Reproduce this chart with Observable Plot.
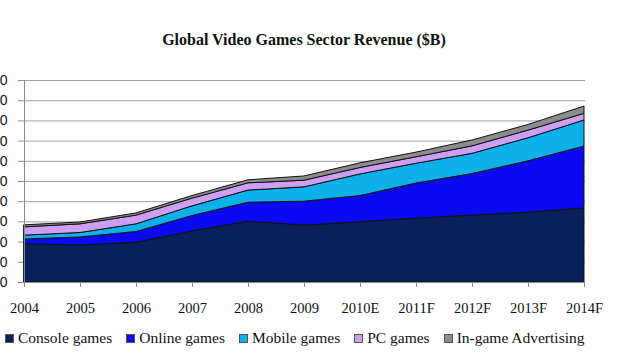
<!DOCTYPE html>
<html>
<head>
<meta charset="utf-8">
<script src="https://cdn.jsdelivr.net/npm/d3@7"></script>
<script src="https://cdn.jsdelivr.net/npm/@observablehq/plot@0.6"></script>
<style>
  html, body { margin: 0; padding: 0; background: #fff; width: 640px; height: 360px; overflow: hidden; }
  #title { height: 60px; box-sizing: border-box; padding-top: 31px; line-height: 18px; text-align: center; font-family: "Liberation Serif", serif; font-weight: bold; font-size: 16px; color: #111; padding-right: 32px; }
  #legend { display: flex; gap: 0; padding-left: 5px; padding-top: 7px; font-family: "Liberation Serif", serif; font-size: 15.5px; color: #111; line-height: 18px; }
  .item { display: flex; align-items: center; margin-right: 14px; }
  .sw { width: 9px; height: 9px; margin-right: 4px; border: 1px solid #555; box-sizing: border-box; }
</style>
</head>
<body>
<div id="title">Global Video Games Sector Revenue ($B)</div>
<div id="chart"></div>
<div id="legend"></div>
<script>
const years = ["2004","2005","2006","2007","2008","2009","2010E","2011F","2012F","2013F","2014F"];
const series = ["Console games","Online games","Mobile games","PC games","In-game Advertising"];
const colors = ["#0a205c","#0a0af2","#0cb0ea","#cc9ff2","#8c8c8c"];
const yTicks = [0,10,20,30,40,50,60,70,80,90,100];

const consoleGames = [19.0, 18.3, 19.7, 25.3, 30.1, 28.2, 29.8, 31.6, 33.1, 34.6, 36.7];
const onlineGames  = [2.3, 4.0, 5.3, 7.6, 9.4, 11.8, 13.0, 17.4, 20.6, 25.4, 30.6];
const mobileGames  = [1.9, 2.2, 3.8, 4.8, 6.0, 7.1, 10.7, 9.8, 10.0, 11.4, 12.9];
const pcGames      = [4.1, 4.3, 4.3, 3.8, 3.6, 3.3, 3.2, 3.2, 3.7, 3.8, 3.3];
const inGameAds    = [1.0, 0.9, 1.1, 1.3, 1.5, 2.1, 2.3, 2.3, 2.9, 2.8, 3.6];

const values = [consoleGames, onlineGames, mobileGames, pcGames, inGameAds];
const data = [];
series.forEach((s, j) => years.forEach((y, i) => data.push({year: y, series: s, value: values[j][i]})));

const chart = Plot.plot({
  width: 640,
  height: 262,
  marginLeft: 23,
  marginRight: 55,
  marginTop: 20,
  marginBottom: 40,
  style: {fontFamily: "Liberation Serif", fontSize: "14px", color: "#111", overflow: "visible"},
  x: {type: "point", domain: years, padding: 0, label: null},
  y: {domain: [0, 100], label: null},
  color: {domain: series, range: colors},
  marks: [
    Plot.gridY(yTicks, {stroke: "#a0a0a0", strokeOpacity: 1}),
    Plot.areaY(data, {x: "year", y: "value", fill: "series", z: "series", stroke: "#111", strokeWidth: 1, fillOpacity: 1}),
    Plot.ruleX([years[0]], {stroke: "#8a8a8a"}),
    Plot.ruleY([0], {stroke: "#8a8a8a"}),
    Plot.axisY({ticks: yTicks, tickSize: 5, tickPadding: 11, stroke: "#8a8a8a", fontFamily: "Liberation Sans", fontSize: 14, label: null}),
    Plot.axisX({tickSize: 5, tickPadding: 15, stroke: "#8a8a8a", fontSize: 14.5, label: null})
  ]
});
document.getElementById("chart").appendChild(chart);

const legend = document.getElementById("legend");
series.forEach((s, i) => {
  const item = document.createElement("div");
  item.className = "item";
  const sw = document.createElement("span");
  sw.className = "sw";
  sw.style.background = colors[i];
  item.appendChild(sw);
  item.appendChild(document.createTextNode(s));
  legend.appendChild(item);
});
</script>
</body>
</html>
